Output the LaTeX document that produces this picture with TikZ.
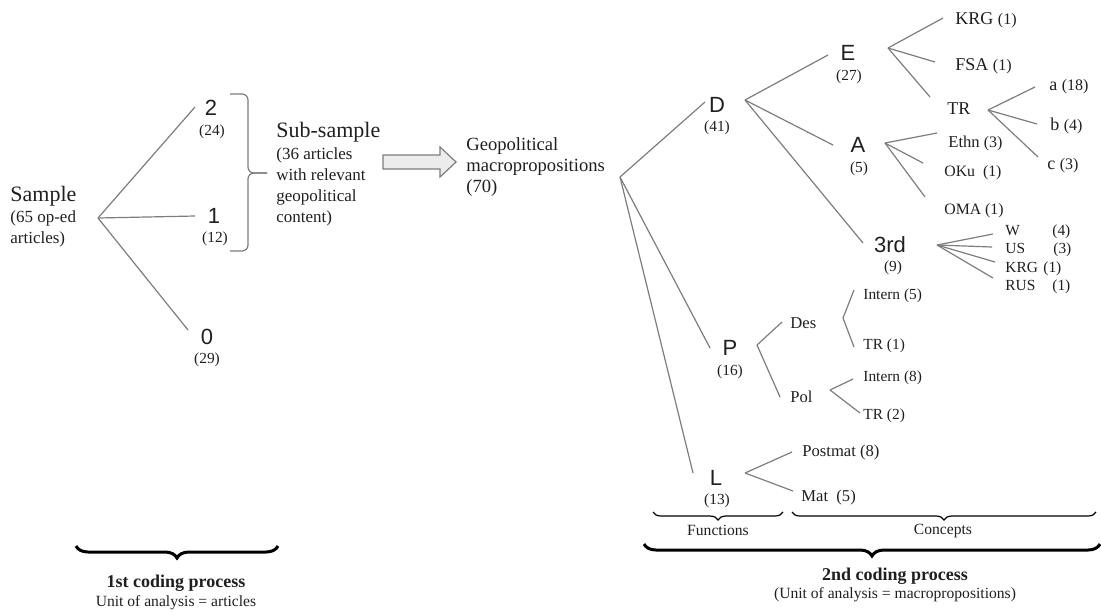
\documentclass[tikz,border=0pt]{standalone}
\usepackage{fontspec}
\setmainfont{Liberation Serif}
\setsansfont{Liberation Sans}
\usetikzlibrary{decorations.pathreplacing}
\definecolor{linegray}{RGB}{125,125,125}
\definecolor{arrowfill}{RGB}{236,236,236}
\newcommand{\cnt}[1]{{\fontsize{8}{9}\selectfont(#1)}}

\begin{document}
\begin{tikzpicture}[x=0.5pt, y=-0.5pt, text=black!88,
    branch/.style={draw=linegray, line width=0.6pt},
    fnlabel/.style={inner sep=0, font=\sffamily\fontsize{11}{13}\selectfont},
    tally/.style={inner sep=0, font=\fontsize{7.7}{9}\selectfont},
    leaf/.style={inner sep=0, anchor=west, font=\fontsize{9}{11}\selectfont},
    midleaf/.style={inner sep=0, anchor=west, font=\fontsize{8.3}{10}\selectfont},
    smallleaf/.style={inner sep=0, anchor=west, font=\fontsize{7.7}{9}\selectfont},
    title/.style={inner sep=0, anchor=west, font=\fontsize{11}{13}\selectfont},
    note/.style={inner sep=0, anchor=west, align=left, font=\fontsize{8.5}{10.5}\selectfont},
    process/.style={inner sep=0, font=\bfseries\fontsize{9}{11}\selectfont},
    unit/.style={inner sep=0, font=\fontsize{7.8}{9}\selectfont},
    bigbrace/.style={decorate, decoration={brace, mirror, amplitude=6pt}, line width=1.5pt},
    smallbrace/.style={decorate, decoration={brace, mirror, amplitude=4pt}, line width=0.6pt}]

    \useasboundingbox (0,0) rectangle (1101,612);

    % first coding process
    \node[title] (sample) at (10,196) {Sample};
    \node[note] (samplenote) at (10,228.5) {(65 op-ed\\articles)};

    \node[fnlabel] (two)  at (211,108) {2};
    \node[tally]   (twon) at (212,132) {(24)};
    \node[fnlabel] (one)  at (214,216) {1};
    \node[tally]   (onen) at (215,239) {(12)};
    \node[fnlabel] (zero) at (207,337) {0};
    \node[tally]   (zeron) at (207,360) {(29)};

    \draw[linegray, line width=0.6pt, rounded corners=3pt] (230,94) -- (248,94) -- (248,173) -- (267,173);
    \draw[linegray, line width=0.6pt, rounded corners=3pt] (230,251) -- (248,251) -- (248,173) -- (267,173);

    \node[title] (subsample) at (276,132) {Sub-sample};
    \node[note] (subnote) at (276,186.5) {(36 articles\\with relevant\\geopolitical\\content)};

    \filldraw[fill=arrowfill, draw=linegray, line width=0.6pt]
      (383,155) -- (440,155) -- (440,147) -- (456,162) -- (440,177) -- (440,169) -- (383,169) -- cycle;

    \node[note, font=\fontsize{9.3}{10.5}\selectfont] (geo) at (466,167) {Geopolitical\\macropropositions\\(70)};

    % second coding process
    \node[fnlabel] (D)    at (717,105) {D};
    \node[tally]   (Dn)   at (717,128) {(41)};
    \node[fnlabel] (E)    at (848,53)  {E};
    \node[tally]   (En)   at (849,77)  {(27)};
    \node[fnlabel] (A)    at (858,145) {A};
    \node[tally]   (An)   at (859,169) {(5)};
    \node[fnlabel] (third)  at (890,245) {3rd};
    \node[tally]   (thirdn) at (893,268) {(9)};
    \node[fnlabel] (P)    at (730,348) {P};
    \node[tally]   (Pn)   at (730,372) {(16)};
    \node[fnlabel] (L)    at (716,478) {L};
    \node[tally]   (Ln)   at (717,501) {(13)};

    \node[leaf] (KRGe) at (955,20)  {KRG \cnt{1}};
    \node[leaf] (FSA)  at (955,66)  {FSA \cnt{1}};
    \node[leaf] (TRe)  at (947,109) {TR};
    \node[leaf] (a)    at (1049,87)  {a \cnt{18}};
    \node[leaf] (b)    at (1050,126) {b \cnt{4}};
    \node[leaf] (c)    at (1047,166) {c \cnt{3}};
    \node[midleaf] (Ethn) at (948,143) {Ethn \cnt{3}};
    \node[smallleaf, font=\fontsize{7.9}{9}\selectfont] (OKu) at (944,173) {OKu\ \ (1)};
    \node[smallleaf, font=\fontsize{7.9}{9}\selectfont] (OMA) at (944,211) {OMA (1)};

    \node[smallleaf] (W)    at (1005,232) {\makebox[23.5pt][l]{W}(4)};
    \node[smallleaf] (US)   at (1005,250) {\makebox[24pt][l]{US}(3)};
    \node[smallleaf] (KRGt) at (1005,269) {\makebox[19pt][l]{KRG}(1)};
    \node[smallleaf] (RUS)  at (1005,287) {\makebox[23.5pt][l]{RUS}(1)};

    \node[midleaf] (Des) at (790,323) {Des};
    \node[midleaf] (Pol) at (790,397) {Pol};
    \node[smallleaf] (IntD) at (863,296) {Intern (5)};
    \node[smallleaf] (TRD)  at (863,346) {TR (1)};
    \node[smallleaf] (IntP) at (863,378) {Intern (8)};
    \node[smallleaf] (TRP)  at (863,416) {TR (2)};
    \node[midleaf] (Postmat) at (802,452) {Postmat (8)};
    \node[midleaf] (Mat)     at (801,497) {Mat\ \ (5)};

    % fork points and line ends
    \foreach \n/\px/\py in {sfork/98/218, s2/195/107, s1/195/216, s0/188/330,
        gfork/620/177, gD/705/102, gP/710/348, gL/693/473,
        Dfork/745/100, dE/828/55, dA/833/145, d3/863/243,
        Efork/888/48, eK/943/18, eF/935/62, eT/930/97,
        Tfork/988/110, ta/1035/87, tb/1037/124, tc/1038/157,
        Afork/885/143, aE/937/133, aO/923/163, aM/925/197,
        hfork/937/245, hW/993/234, hU/992/247, hK/995/262, hR/993/278,
        Pfork/757/345, pD/782/322, pP/780/397,
        Dsfork/843/318, ds1/854/290, ds2/854/347,
        Plfork/830/390, pl1/853/379, pl2/860/413,
        Lfork/745/473, l1/792/452, l2/793/491}
      \coordinate (\n) at (\px,\py);

    \foreach \e in {s2, s1, s0} \draw[branch] (sfork) -- (\e);
    \foreach \e in {gD, gP, gL} \draw[branch] (gfork) -- (\e);
    \foreach \e in {dE, dA, d3} \draw[branch] (Dfork) -- (\e);
    \foreach \e in {eK, eF, eT} \draw[branch] (Efork) -- (\e);
    \foreach \e in {ta, tb, tc} \draw[branch] (Tfork) -- (\e);
    \foreach \e in {aE, aO, aM} \draw[branch] (Afork) -- (\e);
    \foreach \e in {hW, hU, hK, hR} \draw[branch] (hfork) -- (\e);
    \foreach \e in {pD, pP} \draw[branch] (Pfork) -- (\e);
    \foreach \e in {ds1, ds2} \draw[branch] (Dsfork) -- (\e);
    \foreach \e in {pl1, pl2} \draw[branch] (Plfork) -- (\e);
    \foreach \e in {l1, l2} \draw[branch] (Lfork) -- (\e);

    % braces and captions
    \draw[smallbrace] (653,512) -- (783,512);
    \draw[smallbrace] (792,512) -- (1096,512);
    \node[unit] (functions) at (718,530) {Functions};
    \node[unit] (concepts)  at (943,531) {Concepts};

    \draw[bigbrace] (76,546) -- (278,546);
    \node[process] (first)     at (176,583) {1st coding process};
    \node[unit]    (firstunit) at (176,603) {Unit of analysis = articles};

    \draw[bigbrace] (644,544) -- (1100,544);
    \node[process] (second)     at (895,576) {2nd coding process};
    \node[unit]    (secondunit) at (895,595) {(Unit of analysis = macropropositions)};
\end{tikzpicture}
\end{document}
